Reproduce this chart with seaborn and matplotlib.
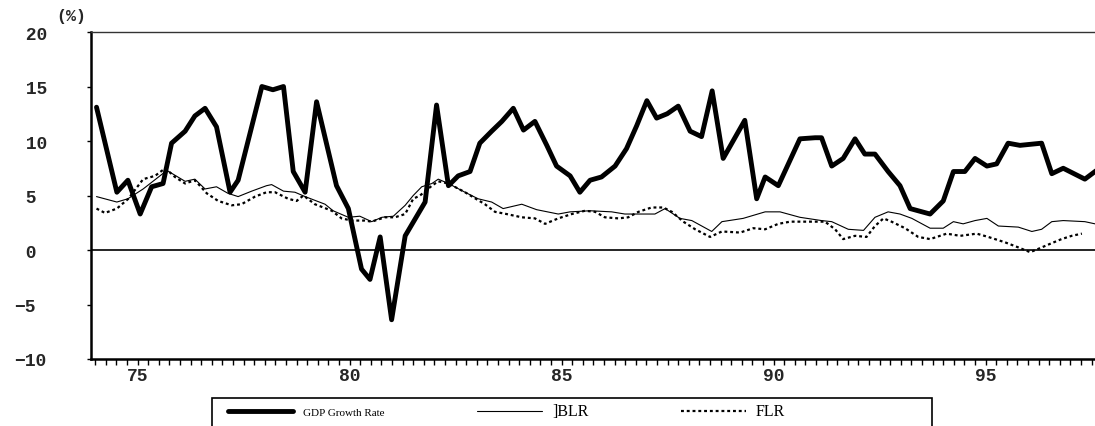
import numpy as np
import pandas as pd
import matplotlib
matplotlib.use("Agg")
import matplotlib.pyplot as plt
import seaborn as sns
from matplotlib.patches import Rectangle
from matplotlib.ticker import FixedLocator

# ---------------- data ----------------
gdp_year = [74.03, 74.51, 74.77, 75.06, 75.33, 75.60, 75.80, 76.12, 76.35, 76.59,
            76.86, 77.18, 77.37, 77.93, 78.19, 78.44, 78.67, 78.95, 79.22, 79.69,
            79.97, 80.28, 80.48, 80.72, 80.99, 81.31, 81.78, 82.05, 82.33, 82.56,
            82.84, 83.07, 83.35, 83.59, 83.86, 84.10, 84.37, 84.65, 84.88, 85.20,
            85.43, 85.67, 85.94, 86.26, 86.53, 86.77, 87.01, 87.24, 87.49, 87.75,
            88.03, 88.30, 88.55, 88.81, 89.32, 89.60, 89.80, 90.11, 90.62, 90.98,
            91.13, 91.37, 91.64, 91.92, 92.15, 92.39, 92.70, 92.98, 93.22, 93.69,
            94.00, 94.24, 94.51, 94.75, 95.03, 95.26, 95.53, 95.81, 96.32, 96.56,
            96.83, 97.34, 97.58, 97.65]
gdp_value = [13.1, 5.3, 6.4, 3.3, 5.8, 6.1, 9.8, 10.9, 12.3, 13.0,
             11.3, 5.3, 6.4, 15.0, 14.7, 15.0, 7.2, 5.3, 13.6, 5.9,
             3.8, -1.75, -2.7, 1.2, -6.4, 1.3, 4.4, 13.3, 5.9, 6.8,
             7.2, 9.8, 10.9, 11.8, 13.0, 11.0, 11.8, 9.6, 7.7, 6.8,
             5.3, 6.4, 6.7, 7.7, 9.3, 11.4, 13.7, 12.1, 12.5, 13.2,
             10.9, 10.4, 14.6, 8.4, 11.9, 4.7, 6.7, 5.9, 10.2, 10.3,
             10.3, 7.7, 8.4, 10.2, 8.8, 8.8, 7.2, 5.9, 3.8, 3.3,
             4.5, 7.2, 7.2, 8.4, 7.7, 7.9, 9.8, 9.6, 9.8, 7.0,
             7.5, 6.5, 7.2, 7.4]

blr_year = [74.03, 74.51, 74.77, 75.13, 75.69, 76.12, 76.35, 76.59, 76.86, 77.13,
            77.37, 77.69, 78.04, 78.16, 78.44, 78.71, 78.95, 79.42, 79.61, 79.97,
            80.24, 80.52, 80.76, 81.03, 81.31, 81.50, 81.70, 81.94, 82.09, 82.33,
            82.72, 83.03, 83.35, 83.62, 84.06, 84.41, 84.92, 85.20, 85.67, 86.18,
            86.49, 87.20, 87.44, 87.79, 88.07, 88.54, 88.78, 89.28, 89.80, 90.15,
            90.62, 91.13, 91.37, 91.76, 92.12, 92.39, 92.70, 92.98, 93.26, 93.69,
            94.00, 94.24, 94.47, 94.75, 95.03, 95.30, 95.77, 96.09, 96.32, 96.56,
            96.83, 97.34, 97.58, 97.65]
blr_value = [4.9, 4.4, 4.7, 5.6, 7.3, 6.3, 6.5, 5.6, 5.8, 5.2,
             4.9, 5.4, 5.9, 6.0, 5.4, 5.3, 4.9, 4.2, 3.6, 3.0,
             3.1, 2.6, 3.0, 3.1, 4.1, 5.0, 5.8, 6.1, 6.5, 6.1,
             5.3, 4.7, 4.4, 3.8, 4.2, 3.7, 3.3, 3.5, 3.6, 3.5,
             3.3, 3.3, 3.8, 2.9, 2.7, 1.7, 2.6, 2.9, 3.5, 3.5,
             3.0, 2.7, 2.6, 1.9, 1.8, 3.0, 3.5, 3.3, 2.9, 2.0,
             2.0, 2.6, 2.4, 2.7, 2.9, 2.2, 2.1, 1.7, 1.9, 2.6,
             2.7, 2.6, 2.4, 2.4]

flr_year = [74.03, 74.23, 74.51, 74.78, 75.13, 75.41, 75.65, 75.88, 76.12, 76.35,
            76.63, 76.90, 77.22, 77.45, 77.77, 78.04, 78.24, 78.55, 78.75, 78.91,
            79.18, 79.58, 79.81, 80.05, 80.36, 80.52, 80.83, 81.07, 81.31, 81.50,
            81.66, 81.94, 82.09, 82.33, 82.72, 83.19, 83.43, 83.70, 84.06, 84.37,
            84.61, 84.92, 85.24, 85.55, 85.79, 86.02, 86.34, 86.57, 86.81, 87.12,
            87.40, 87.60, 87.87, 88.15, 88.50, 88.78, 89.21, 89.52, 89.80, 90.11,
            90.39, 90.70, 91.21, 91.45, 91.64, 91.92, 92.19, 92.39, 92.59, 92.78,
            93.10, 93.41, 93.69, 94.08, 94.40, 94.79, 95.06, 95.46, 95.73, 96.05,
            96.24, 96.48, 96.79, 97.03, 97.27]
flr_value = [3.8, 3.4, 3.8, 4.7, 6.5, 6.8, 7.5, 6.7, 6.1, 6.4,
             5.2, 4.5, 4.1, 4.2, 4.9, 5.3, 5.3, 4.7, 4.5, 5.0,
             4.2, 3.6, 2.9, 2.7, 2.7, 2.6, 3.0, 3.0, 3.3, 4.7,
             5.0, 5.9, 6.3, 6.1, 5.3, 4.2, 3.5, 3.3, 3.0, 2.9,
             2.4, 2.9, 3.3, 3.6, 3.5, 3.0, 2.9, 3.0, 3.5, 3.9,
             3.9, 3.5, 2.6, 1.9, 1.2, 1.7, 1.6, 2.0, 1.9, 2.4,
             2.6, 2.6, 2.6, 1.9, 1.0, 1.3, 1.2, 2.2, 2.9, 2.6,
             2.0, 1.2, 1.0, 1.5, 1.3, 1.5, 1.2, 0.7, 0.3, -0.2,
             0.1, 0.5, 1.0, 1.3, 1.5]

series_labels = ["GDP Growth Rate", "]BLR", "FLR"]
x_ticks = [75, 80, 85, 90, 95]
x_tick_labels = ["75", "80", "85", "90", "95"]
y_ticks = [-10, -5, 0, 5, 10, 15, 20]
y_tick_labels = ["\u221210", "\u22125", " 0", " 5", " 10", " 15", " 20"]

# ---------------- style ----------------
sns.set_style("ticks")
plt.rcParams['font.family'] = ['Liberation Mono', 'DejaVu Sans Mono']
plt.rcParams['font.weight'] = 'bold'

W, H = 1095, 427
fig = plt.figure(figsize=(W / 100, H / 100), dpi=100)
ax = fig.add_axes([91 / W, 1 - 360 / H, 1 - 91 / W, 327 / H])

gdp_df = pd.DataFrame({"year": gdp_year, "value": gdp_value})
blr_df = pd.DataFrame({"year": blr_year, "value": blr_value})
flr_df = pd.DataFrame({"year": flr_year, "value": flr_value})

sns.lineplot(data=gdp_df, x="year", y="value", ax=ax, color="black", lw=3.5,
             estimator=None, sort=False, solid_joinstyle="round")
sns.lineplot(data=blr_df, x="year", y="value", ax=ax, color="black", lw=0.8,
             estimator=None, sort=False)
sns.lineplot(data=flr_df, x="year", y="value", ax=ax, color="black", lw=1.6,
             estimator=None, sort=False, linestyle=(0, (1.3, 1.3)))

ax.axhline(0, color="black", lw=1.2, zorder=1)

ax.set_xlim(73.9, 73.9 + 1004 / 42.4)
ax.set_ylim(-10, 20)
ax.set_xlabel("")
ax.set_ylabel("")

ax.set_xticks(x_ticks)
ax.set_xticklabels(x_tick_labels, fontsize=13, fontweight="bold")
ax.xaxis.set_minor_locator(FixedLocator(np.arange(74.0, 97.6, 0.25)))
ax.tick_params(axis="x", which="both", direction="out", length=4, width=1,
               color="black", pad=2)

ax.set_yticks(y_ticks)
ax.set_yticklabels(y_tick_labels, fontsize=13, fontweight="bold")
for lab in ax.get_yticklabels():
    lab.set_horizontalalignment("left")
ax.tick_params(axis="y", which="major", direction="out", length=3, width=1,
               color="black", pad=52)

for side in ["left", "bottom"]:
    ax.spines[side].set_linewidth(1.8)
    ax.spines[side].set_color("black")
ax.spines["top"].set_linewidth(1.0)
ax.spines["top"].set_color("#333333")
ax.spines["right"].set_visible(False)

fig.text(71 / W, 1 - 17 / H, "(%)", ha="center", va="center",
         fontsize=12, fontweight="bold")

# legend
handles = ax.get_lines()[:3]
leg = ax.legend(handles, series_labels, ncol=3, frameon=False,
                loc="center left", bbox_to_anchor=(228 / W, 1 - 412 / H),
                bbox_transform=fig.transFigure, borderpad=0, borderaxespad=0,
                handlelength=5.2, handletextpad=0.8, columnspacing=7.4,
                prop={"family": "Liberation Serif", "size": 9})
texts = leg.get_texts()
texts[0].set_fontsize(8)
texts[1].set_fontsize(11.5)
texts[2].set_fontsize(11.5)
for t in texts:
    t.set_fontweight("normal")
    t.set_color("black")

fig.add_artist(Rectangle((212 / W, -0.05), 720 / W, 0.05 + (1 - 399 / H),
                         transform=fig.transFigure, fill=False,
                         edgecolor="black", lw=1.2))

fig.savefig("out.png", dpi=100, facecolor="white")
